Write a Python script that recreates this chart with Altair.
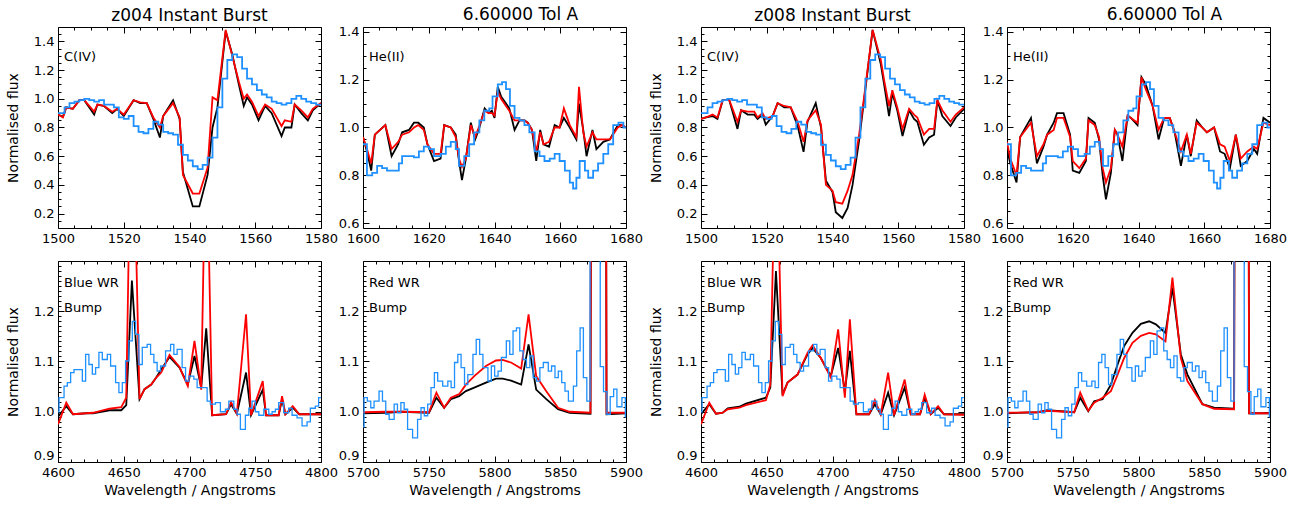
import altair as alt
import pandas as pd

# ------------------------------------------------------------------ data
# top row, C(IV) window, z004 models (black = model A, red = model B)
CIV_X_Z004 = [1500, 1501.5, 1502.5, 1504.5, 1506.5, 1508, 1511, 1512, 1514, 1516.5, 1518, 1520, 1523, 1525, 1527,
              1529, 1531, 1532, 1535, 1537, 1538, 1541, 1543, 1545.5, 1547, 1548.5, 1551, 1553, 1555, 1556.5,
              1557.5, 1559, 1561, 1563, 1565, 1568, 1569, 1571, 1572, 1574, 1576, 1577.5, 1580]
CIV_BLACK_Z004 = [0.89, 0.875, 0.94, 0.93, 0.99, 0.99, 0.89, 0.96, 0.95, 0.90, 0.93, 0.88, 0.99, 0.97, 0.97,
                  0.86, 0.73, 0.88, 0.99, 0.86, 0.49, 0.25, 0.25, 0.47, 0.80, 0.94, 1.47, 1.31, 1.10, 0.95,
                  1.01, 0.96, 0.85, 0.95, 0.90, 0.74, 0.80, 0.80, 0.96, 0.90, 0.85, 0.92, 0.97]
CIV_RED_Z004 = [0.89, 0.87, 0.94, 0.93, 0.99, 0.99, 0.91, 0.96, 0.95, 0.91, 0.93, 0.89, 0.99, 0.975, 0.97,
                0.87, 0.80, 0.88, 0.97, 0.87, 0.47, 0.34, 0.34, 0.52, 1.01, 0.99, 1.48, 1.30, 1.12, 1.00,
                1.03, 0.98, 0.88, 0.96, 0.93, 0.81, 0.85, 0.84, 0.96, 0.92, 0.87, 0.93, 0.97]

# top row, C(IV) window, z008 models
CIV_X_Z008 = [1500, 1501.5, 1503.5, 1505, 1506.6, 1508.6, 1511.1, 1512.2, 1514.2, 1516.2, 1517.2, 1518.7,
              1519.7, 1521.8, 1523.3, 1525.3, 1527.3, 1529.4, 1531.2, 1532.4, 1534.9, 1536.5, 1538, 1540,
              1541, 1543, 1544.6, 1546.1, 1548.1, 1549.6, 1552.2, 1554.7, 1555.7, 1557.2, 1558.2, 1559.7,
              1561.3, 1563.3, 1564.8, 1565.8, 1567.8, 1569.4, 1570.9, 1571.9, 1573.4, 1575.9, 1577.5, 1580]
CIV_BLACK_Z008 = [0.86, 0.87, 0.88, 0.86, 0.99, 0.99, 0.79, 0.92, 0.89, 0.89, 0.86, 0.89, 0.82, 0.88, 0.97,
                  0.94, 0.94, 0.81, 0.63, 0.84, 0.97, 0.80, 0.43, 0.35, 0.21, 0.17, 0.24, 0.40, 0.71, 0.99,
                  1.48, 1.24, 1.10, 0.88, 1.04, 0.92, 0.74, 0.92, 0.86, 0.84, 0.68, 0.73, 0.75, 0.99, 0.88,
                  0.81, 0.87, 0.93]
CIV_RED_Z008 = [0.86, 0.87, 0.89, 0.87, 0.99, 0.99, 0.84, 0.92, 0.91, 0.91, 0.87, 0.90, 0.86, 0.88, 0.97,
                0.95, 0.94, 0.84, 0.70, 0.85, 0.92, 0.82, 0.40, 0.36, 0.28, 0.27, 0.36, 0.47, 0.75, 1.01,
                1.48, 1.27, 1.13, 0.95, 1.06, 0.94, 0.79, 0.93, 0.89, 0.87, 0.75, 0.79, 0.79, 0.99, 0.92,
                0.84, 0.89, 0.94]

# observed Tol A spectrum, C(IV) window (step edges / values)
CIV_OBS_X = [1500, 1502, 1503.5, 1505, 1506.5, 1508, 1509.5, 1511, 1512.5, 1514, 1515.5, 1517, 1518.5, 1520,
             1521.5, 1523, 1524.5, 1526, 1527.5, 1529, 1530.5, 1532, 1533.5, 1535, 1536.5, 1538, 1539.5,
             1541, 1542.5, 1544, 1545.5, 1547, 1548.5, 1550, 1551.5, 1553, 1554.5, 1556, 1557.5, 1559,
             1560.5, 1562, 1563.5, 1565, 1566.5, 1568, 1569.5, 1571, 1572.5, 1574, 1575.5, 1577, 1578.5, 1580]
CIV_OBS = [0.90, 0.94, 0.97, 0.98, 0.99, 1.00, 0.99, 0.98, 0.99, 0.96, 0.96, 0.94, 0.87, 0.86, 0.88, 0.81,
           0.77, 0.76, 0.79, 0.84, 0.82, 0.77, 0.76, 0.75, 0.68, 0.61, 0.57, 0.53, 0.51, 0.54, 0.59, 0.73,
           0.94, 1.14, 1.27, 1.31, 1.29, 1.21, 1.14, 1.10, 1.06, 1.03, 1.01, 0.98, 0.97, 0.96, 0.97, 1.00,
           1.02, 1.00, 0.98, 0.97, 0.96, 0.96]

# top row, He(II) window, z004 models
HE2_X_Z004 = [1600, 1601.2, 1602.5, 1603.6, 1606.8, 1608.7, 1610.7, 1611.9, 1614, 1615.5, 1616.8, 1618.5,
              1619.6, 1621.6, 1623.6, 1624.7, 1626.7, 1628.2, 1629.2, 1630.1, 1631.3, 1632.8, 1634.1, 1635.2,
              1637, 1638.2, 1639.2, 1640, 1641, 1642, 1643.5, 1644.5, 1646.1, 1647.6, 1649.1, 1650.1, 1651.4,
              1652.7, 1653.9, 1654.9, 1656.6, 1658.3, 1659.8, 1661.1, 1662.9, 1664.9, 1665.7, 1667, 1668,
              1669.8, 1671, 1673.1, 1675.1, 1677.5, 1678.7, 1680]
HE2_BLACK_Z004 = [0.96, 0.90, 0.82, 0.97, 1.01, 0.88, 0.93, 0.98, 0.99, 1.02, 1.02, 1.00, 0.93, 0.86, 0.87,
                  1.01, 1.00, 0.97, 0.86, 0.78, 0.87, 1.02, 0.95, 0.99, 1.08, 1.06, 1.07, 1.04, 1.17, 1.13,
                  1.10, 1.08, 0.99, 1.03, 1.03, 1.02, 0.99, 0.86, 0.99, 0.93, 0.92, 1.01, 1.00, 1.04, 1.00,
                  0.95, 1.10, 0.99, 0.88, 0.99, 0.91, 0.94, 0.95, 1.01, 1.01, 1.00]
HE2_RED_Z004 = [0.96, 0.91, 0.85, 0.97, 1.01, 0.91, 0.94, 0.97, 0.98, 1.00, 1.01, 0.99, 0.93, 0.89, 0.89,
                1.01, 1.00, 0.96, 0.87, 0.835, 0.87, 1.01, 0.96, 1.00, 1.07, 1.06, 1.06, 1.05, 1.15, 1.12,
                1.09, 1.07, 1.03, 1.03, 1.03, 1.02, 0.99, 0.90, 0.98, 0.93, 0.94, 1.00, 1.00, 1.08, 1.01,
                0.96, 1.17, 0.98, 0.92, 0.98, 0.95, 0.95, 0.95, 1.00, 1.01, 1.00]

# top row, He(II) window, z008 models
HE2_X_Z008 = [1600, 1601, 1602.9, 1604, 1607.3, 1609.1, 1611.1, 1612.2, 1614.2, 1615.2, 1617.2, 1619.2, 1620,
              1622, 1624, 1624.8, 1626.7, 1628, 1629.1, 1630.1, 1631.6, 1632.8, 1633.6, 1635.1, 1636.7,
              1637.7, 1639.7, 1640.9, 1642.2, 1644.3, 1646.1, 1647.8, 1649.5, 1651, 1652.9, 1654.7, 1655.9,
              1657.7, 1659.4, 1660.8, 1663, 1664.8, 1666.2, 1667.8, 1669.6, 1671.1, 1673.1, 1675.1, 1676.1,
              1678, 1680]
HE2_BLACK_Z008 = [0.91, 0.85, 0.77, 0.96, 1.04, 0.85, 0.92, 0.97, 1.02, 1.06, 1.06, 0.97, 0.82, 0.81, 0.86,
                  1.04, 1.02, 0.95, 0.80, 0.70, 0.81, 0.99, 0.97, 0.86, 1.05, 1.04, 1.01, 1.21, 1.18, 1.09,
                  0.95, 1.04, 1.04, 0.98, 0.84, 0.97, 0.88, 1.03, 1.00, 0.98, 1.00, 0.90, 0.89, 0.83, 0.97,
                  0.84, 0.86, 0.91, 0.89, 1.04, 1.02]
HE2_RED_Z008 = [0.94, 0.87, 0.80, 0.96, 1.02, 0.88, 0.93, 0.97, 0.99, 1.04, 1.04, 0.96, 0.86, 0.83, 0.87,
                1.03, 1.01, 0.96, 0.83, 0.77, 0.83, 0.99, 0.97, 0.92, 1.05, 1.04, 1.02, 1.21, 1.16, 1.09,
                0.99, 1.04, 1.04, 0.98, 0.90, 0.97, 0.89, 1.02, 1.00, 0.98, 1.00, 0.93, 0.92, 0.86, 0.97,
                0.87, 0.90, 0.92, 0.91, 1.02, 1.01]

# observed Tol A spectrum, He(II) window
HE2_OBS_X = [1600, 1601.2, 1602.8, 1604.3, 1605.8, 1607.3, 1608.9, 1610.9, 1611.9, 1613.5, 1615.5, 1617,
             1618.5, 1620.1, 1621.6, 1623.6, 1625.2, 1626.7, 1628.2, 1629.2, 1630.8, 1632.3, 1633.8, 1635.4,
             1636.9, 1638.4, 1639.4, 1641, 1642.3, 1643.5, 1644.7, 1646.1, 1647.6, 1649.1, 1650.6, 1652.2,
             1653.7, 1655.2, 1656.8, 1658.3, 1659.8, 1661.4, 1662.9, 1663.9, 1664.9, 1665.9, 1667.5, 1668.5,
             1670, 1671.5, 1673.1, 1674.6, 1676.1, 1677.7, 1679.2, 1680]
HE2_OBS = [0.93, 0.80, 0.81, 0.84, 0.83, 0.82, 0.82, 0.85, 0.88, 0.88, 0.875, 0.90, 0.92, 0.91, 0.88, 0.89,
           0.92, 0.94, 0.91, 0.84, 0.88, 0.93, 0.98, 1.03, 1.07, 1.08, 1.13, 1.18, 1.19, 1.16, 1.09, 1.04,
           1.03, 1.01, 0.98, 0.90, 0.88, 0.86, 0.87, 0.89, 0.86, 0.82, 0.77, 0.745, 0.79, 0.86, 0.82, 0.79,
           0.82, 0.85, 0.89, 0.93, 1.01, 1.02, 1.00, 1.00]

# bottom row, blue WR bump, z004 models
BWR_X_Z004 = [4600, 4606.3, 4611.4, 4621.5, 4626.6, 4639.2, 4648.1, 4651.9, 4656.2, 4662, 4665.8, 4670.9,
              4674.7, 4678.5, 4684.8, 4692.4, 4698.7, 4703.8, 4708.9, 4712.7, 4717.2, 4727.8, 4731.6, 4736,
              4743, 4746.8, 4755.7, 4758.2, 4767.8, 4770.4, 4772.9, 4778.5, 4783.5, 4800]
BWR_BLACK_Z004 = [0.99, 1.011, 0.995, 0.997, 0.997, 1.003, 1.003, 1.013, 1.261, 1.025, 1.045, 1.054, 1.068,
                  1.084, 1.109, 1.088, 1.054, 1.111, 1.048, 1.166, 0.993, 0.995, 1.015, 0.996, 1.078, 0.993,
                  1.044, 0.993, 0.993, 1.025, 0.995, 1.008, 0.995, 0.995]
BWR_RED_Z004 = [0.975, 1.018, 0.995, 0.997, 0.998, 1.006, 1.009, 1.028, 1.7, 1.025, 1.045, 1.054, 1.068,
                1.078, 1.113, 1.089, 1.051, 1.141, 1.044, 1.6, 0.993, 0.995, 1.019, 0.996, 1.194, 0.993,
                1.061, 0.993, 0.993, 1.031, 0.995, 1.011, 0.995, 0.995]

# bottom row, blue WR bump, z008 models
BWR_X_Z008 = [4600, 4606.3, 4611.4, 4616.5, 4620.3, 4629.1, 4634.2, 4649.4, 4652.7, 4657, 4662, 4665.8,
              4673.4, 4681, 4684.8, 4691.1, 4698.7, 4704.3, 4709.4, 4713.2, 4718.2, 4727.8, 4732.2, 4736.7,
              4742.3, 4746.8, 4754.9, 4759.5, 4766.6, 4770.1, 4774.7, 4780.3, 4784.8, 4800]
BWR_BLACK_Z008 = [0.995, 1.015, 0.996, 0.998, 1.007, 1.01, 1.016, 1.028, 1.048, 1.28, 1.034, 1.058, 1.074,
                  1.114, 1.127, 1.107, 1.071, 1.127, 1.041, 1.121, 0.995, 0.995, 1.015, 0.995, 1.038, 0.993,
                  1.048, 0.995, 0.995, 1.028, 0.995, 1.008, 0.995, 0.995]
BWR_RED_Z008 = [0.975, 1.018, 0.996, 0.998, 1.005, 1.008, 1.013, 1.023, 1.054, 1.6, 1.031, 1.058, 1.074,
                1.117, 1.132, 1.107, 1.068, 1.164, 1.028, 1.184, 0.995, 0.995, 1.023, 0.995, 1.078, 0.993,
                1.064, 0.995, 0.995, 1.034, 0.995, 1.011, 0.995, 0.994]

# observed Tol A spectrum, blue WR bump
BWR_OBS_X = [4600, 4600.8, 4604.6, 4607.1, 4609.6, 4612.2, 4614.7, 4618.5, 4621, 4623.5, 4626.1, 4628.6,
             4631.1, 4633.7, 4637.5, 4640, 4643.8, 4646.3, 4648.9, 4651.4, 4653.9, 4656.5, 4659, 4661.5,
             4664.1, 4667.8, 4670.4, 4672.9, 4675.4, 4678, 4681.8, 4685.6, 4688.1, 4690.6, 4694.4, 4697,
             4699.5, 4703.3, 4705.8, 4709.6, 4713.4, 4715.9, 4719.7, 4723.5, 4727.3, 4729.9, 4733.7, 4736.2,
             4738.7, 4742.5, 4745.1, 4747.6, 4750.1, 4752.7, 4756.5, 4760.3, 4762.8, 4765.3, 4767.8, 4771.6,
             4775.4, 4778, 4781.8, 4785.6, 4789.4, 4791.9, 4795.7, 4798.2, 4800]
BWR_OBS = [1.0, 1.028, 1.051, 1.058, 1.078, 1.084, 1.084, 1.061, 1.114, 1.094, 1.075, 1.088, 1.118, 1.104,
           1.114, 1.091, 1.058, 1.038, 1.058, 1.101, 1.141, 1.18, 1.154, 1.094, 1.128, 1.134, 1.114, 1.098,
           1.081, 1.091, 1.121, 1.134, 1.114, 1.124, 1.088, 1.061, 1.071, 1.065, 1.048, 1.048, 1.021, 1.015,
           1.018, 1.0, 1.005, 1.021, 1.005, 0.995, 0.965, 0.993, 1.007, 1.021, 1.0, 0.993, 1.005, 0.995,
           1.0, 1.005, 1.018, 0.998, 1.007, 0.993, 0.988, 0.972, 0.98, 1.007, 1.011, 1.028, 1.028]

# bottom row, red WR bump, z004 models
RWR_X_Z004 = [5700, 5717, 5729.8, 5750.2, 5755.8, 5761.7, 5766.8, 5773.1, 5778.2, 5784.6, 5793.5, 5801.1,
              5806.2, 5812.6, 5820.3, 5825.9, 5831.7, 5839.4, 5848.3, 5857.2, 5873.0, 5873.6, 5884.6, 5885.2,
              5900]
RWR_BLACK_Z004 = [0.997, 0.998, 1.0, 0.998, 1.028, 1.008, 1.025, 1.031, 1.041, 1.048, 1.058, 1.066, 1.066,
                  1.062, 1.054, 1.134, 1.044, 1.025, 1.005, 0.998, 0.996, 1.8, 1.8, 0.995, 0.997]
RWR_RED_Z004 = [0.999, 1.0, 1.0, 0.999, 1.038, 1.008, 1.028, 1.035, 1.054, 1.071, 1.091, 1.102, 1.103,
                1.098, 1.086, 1.194, 1.071, 1.041, 1.008, 1.0, 0.998, 1.8, 1.8, 0.998, 0.998]

# bottom row, red WR bump, z008 models
RWR_X_Z008 = [5700, 5723.3, 5730.9, 5751.1, 5755.7, 5761.8, 5766.3, 5772.7, 5779, 5784.1, 5789.1, 5795.4,
              5801.8, 5808.1, 5813.2, 5820.5, 5825.8, 5832.2, 5837.2, 5848.6, 5857.5, 5872.7, 5873.3, 5883.5,
              5884.1, 5890.4, 5900]
RWR_BLACK_Z008 = [0.997, 0.999, 1.003, 0.999, 1.028, 1.001, 1.021, 1.025, 1.054, 1.094, 1.131, 1.157, 1.175,
                  1.18, 1.174, 1.157, 1.247, 1.114, 1.074, 1.015, 1.008, 1.006, 1.8, 1.8, 0.997, 0.997, 0.997]
RWR_RED_Z008 = [0.998, 0.999, 1.002, 0.999, 1.038, 1.002, 1.018, 1.028, 1.041, 1.074, 1.107, 1.137, 1.151,
                1.157, 1.154, 1.14, 1.267, 1.107, 1.061, 1.015, 1.006, 1.005, 1.8, 1.8, 0.997, 0.997, 0.997]

# observed Tol A spectrum, red WR bump
RWR_OBS_X = [5700, 5700.8, 5703.3, 5705.9, 5708.4, 5712.2, 5714.8, 5717.3, 5719.9, 5723.7, 5726.2, 5728.8,
             5731.3, 5733.9, 5737.7, 5741.5, 5744.1, 5746.6, 5749.2, 5751.7, 5754.3, 5756.8, 5760.6, 5764.5,
             5767, 5769.6, 5772.1, 5774.6, 5777.2, 5779.7, 5783.6, 5786.1, 5788.7, 5791.2, 5795, 5797.6,
             5800.1, 5802.7, 5805.2, 5809, 5811.6, 5814.1, 5816.7, 5819.2, 5821.8, 5824.3, 5826.9, 5829.4,
             5832, 5834.5, 5837.1, 5840.9, 5843.4, 5846, 5848.5, 5851.1, 5853.6, 5856.2, 5860, 5862.5, 5865.1,
             5867.6, 5870.2, 5872.7, 5880.4, 5882.9, 5885.5, 5888, 5890.6, 5893.1, 5896.9, 5899.5, 5900]
RWR_OBS = [0.97, 1.028, 1.021, 1.008, 1.021, 1.041, 1.021, 0.995, 0.985, 1.015, 0.998, 1.018, 1.005, 0.965,
           0.948, 0.985, 1.008, 0.992, 1.015, 1.048, 1.078, 1.061, 1.051, 1.061, 1.048, 1.098, 1.114, 1.088,
           1.054, 1.074, 1.114, 1.144, 1.114, 1.088, 1.061, 1.091, 1.071, 1.081, 1.108, 1.141, 1.114, 1.161,
           1.167, 1.121, 1.104, 1.088, 1.111, 1.068, 1.061, 1.088, 1.098, 1.081, 1.091, 1.068, 1.081, 1.058,
           1.041, 1.021, 1.051, 1.121, 1.167, 1.068, 1.021, 1.6, 1.09, 1.04, 0.995, 1.03, 1.045, 1.01, 1.028,
           0.99, 0.99]

TITLES = ["z004 Instant Burst", "6.60000 Tol A", "z008 Instant Burst", "6.60000 Tol A"]

# ------------------------------------------------------------------ style
W, H = 263, 201
FONT = "DejaVu Sans"
BLACK, RED, BLUE = "#000000", "#ff0000", "#1e90ff"


def steps(lo, hi, step):
    n = int(round((hi - lo) / step))
    return [round(lo + i * step, 4) for i in range(n + 1)]


def dash(length, tick):
    return [tick, length - 2 * tick, tick, 3000]


def make_axis(length, values, test, fmt, title, flush=False, lab_pad=4, title_pad=8):
    return alt.Axis(
        values=values, grid=True, ticks=False, domain=False,
        gridColor="black", gridWidth=1, gridOpacity=1,
        gridDash={"condition": {"test": test, "value": dash(length, 6)}, "value": dash(length, 3)},
        labelExpr=f"({test}) ? datum.label : ''",
        format=fmt, labelFont=FONT, labelFontSize=13, labelColor="black",
        labelPadding=lab_pad, labelOverlap=False, labelBound=False, labelFlush=flush,
        title=title, titleFont=FONT, titleFontSize=14, titleFontWeight="normal",
        titleColor="black", titlePadding=title_pad,
    )


def panel(mx, black, red, bx, blue, xdom, xstep, xmajor, ydom, ystep, ymajor, ylo, yhi,
          labels, title=None, title_dx=0, ytitle=False, xtitle=False, blue_w=1.8, bottom=False):
    xt = steps(xdom[0], xdom[1], xstep)
    yt = steps(ylo, yhi, ystep)
    xtest = f"round(datum.value) % {xmajor} === 0"
    ytest = f"abs(round(datum.value * 100)) % {int(round(ymajor * 100))} === 0"
    xaxis = make_axis(H, xt, xtest, "d", "Wavelength / Angstroms" if xtitle else None,
                      lab_pad=4, title_pad=4)
    yaxis = make_axis(W, yt, ytest, ".1f", "Normalised flux" if ytitle else None,
                      flush=bottom, lab_pad=4, title_pad=13)
    xs = alt.Scale(domain=xdom, nice=False, zero=False)
    ys = alt.Scale(domain=ydom, nice=False, zero=False)

    dm = pd.DataFrame({"w": mx, "k": black, "r": red})
    db = pd.DataFrame({"w": bx, "f": blue})

    base_x = alt.X("w:Q", scale=xs, axis=xaxis)
    lk = alt.Chart(dm).mark_line(color=BLACK, strokeWidth=1.8, clip=True).encode(
        x=base_x, y=alt.Y("k:Q", scale=ys, axis=yaxis))
    lr = alt.Chart(dm).mark_line(color=RED, strokeWidth=1.8, clip=True).encode(
        x=base_x, y=alt.Y("r:Q", scale=ys, axis=yaxis))
    lb = alt.Chart(db).mark_line(color=BLUE, strokeWidth=blue_w, clip=True,
                                 interpolate="step-after").encode(
        x=base_x, y=alt.Y("f:Q", scale=ys, axis=yaxis))
    layers = [lk, lr, lb]
    for txt, ypix in labels:
        layers.append(
            alt.Chart(pd.DataFrame({"t": [txt]})).mark_text(
                align="left", baseline="middle", font=FONT, fontSize=13, color="black"
            ).encode(x=alt.value(6), y=alt.value(ypix), text="t:N")
        )
    ch = alt.layer(*layers).properties(width=W, height=H)
    if title:
        ch = ch.properties(title=alt.TitleParams(
            text=title, font=FONT, fontSize=17, fontWeight="normal", color="black",
            offset=2, dx=title_dx))
    return ch


civ_lab = [("C(IV)", 30)]
he2_lab = [("He(II)", 30)]
bwr_lab = [("Blue WR", 22), ("Bump", 47)]
rwr_lab = [("Red WR", 22), ("Bump", 47)]

p1 = panel(CIV_X_Z004, CIV_BLACK_Z004, CIV_RED_Z004, CIV_OBS_X, CIV_OBS, [1500, 1580], 5, 20,
           [0.1, 1.5], 0.05, 0.2, 0.15, 1.45, civ_lab, TITLES[0], 0, ytitle=True)
p2 = panel(HE2_X_Z004, HE2_BLACK_Z004, HE2_RED_Z004, HE2_OBS_X, HE2_OBS, [1600, 1680], 5, 20,
           [0.58, 1.42], 0.05, 0.2, 0.6, 1.4, he2_lab, TITLES[1], 26)
p3 = panel(CIV_X_Z008, CIV_BLACK_Z008, CIV_RED_Z008, CIV_OBS_X, CIV_OBS, [1500, 1580], 5, 20,
           [0.1, 1.5], 0.05, 0.2, 0.15, 1.45, civ_lab, TITLES[2], 0, ytitle=True)
p4 = panel(HE2_X_Z008, HE2_BLACK_Z008, HE2_RED_Z008, HE2_OBS_X, HE2_OBS, [1600, 1680], 5, 20,
           [0.58, 1.42], 0.05, 0.2, 0.6, 1.4, he2_lab, TITLES[3], 26)

p5 = panel(BWR_X_Z004, BWR_BLACK_Z004, BWR_RED_Z004, BWR_OBS_X, BWR_OBS, [4600, 4800], 10, 50,
           [0.9, 1.3], 0.01, 0.1, 0.9, 1.29, bwr_lab, ytitle=True, xtitle=True, blue_w=1.3, bottom=True)
p6 = panel(RWR_X_Z004, RWR_BLACK_Z004, RWR_RED_Z004, RWR_OBS_X, RWR_OBS, [5700, 5900], 10, 50,
           [0.9, 1.3], 0.01, 0.1, 0.9, 1.29, rwr_lab, xtitle=True, blue_w=1.3, bottom=True)
p7 = panel(BWR_X_Z008, BWR_BLACK_Z008, BWR_RED_Z008, BWR_OBS_X, BWR_OBS, [4600, 4800], 10, 50,
           [0.9, 1.3], 0.01, 0.1, 0.9, 1.29, bwr_lab, ytitle=True, xtitle=True, blue_w=1.3, bottom=True)
p8 = panel(RWR_X_Z008, RWR_BLACK_Z008, RWR_RED_Z008, RWR_OBS_X, RWR_OBS, [5700, 5900], 10, 50,
           [0.9, 1.3], 0.01, 0.1, 0.9, 1.29, rwr_lab, xtitle=True, blue_w=1.3, bottom=True)

left = alt.concat(p1, p2, p5, p6, columns=2, spacing={"row": 33, "column": 42}, bounds="flush")
right = alt.concat(p3, p4, p7, p8, columns=2, spacing={"row": 33, "column": 43}, bounds="flush")

chart = alt.hconcat(left, right, spacing=4).configure_view(
    stroke="black", strokeWidth=1
).properties(background="white", padding={"left": 5, "top": 5, "right": 5, "bottom": 5})

chart.save("out.html", embed_options={"renderer": "svg", "actions": False})
